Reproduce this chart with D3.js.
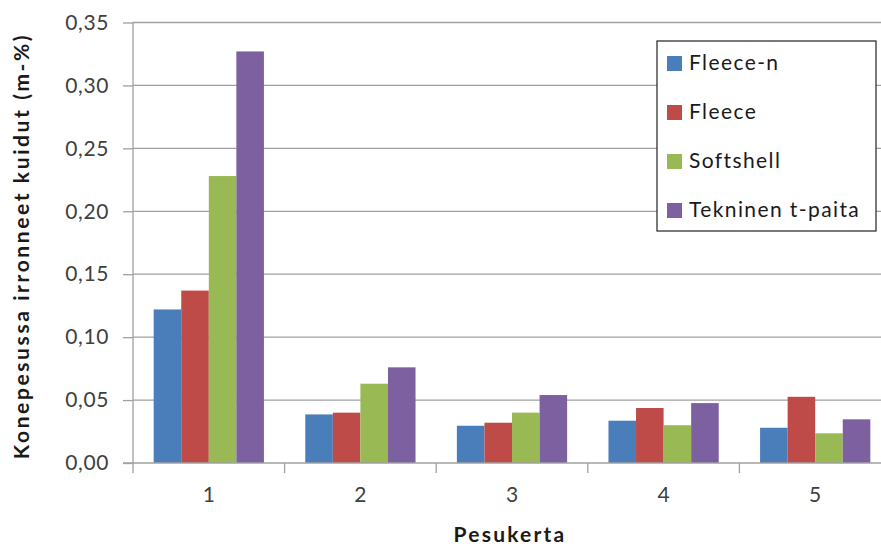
<!DOCTYPE html>
<html><head><meta charset="utf-8">
<script src="https://cdn.jsdelivr.net/npm/d3@7"></script>
<style>body{margin:0;background:#fff;} svg{display:block;}</style>
</head><body>
<svg id="chart" width="881" height="546"></svg>
<script>
const categories = ["1","2","3","4","5"];
const seriesNames = ["Fleece-n","Fleece","Softshell","Tekninen t-paita"];
const fleeceN   = [0.122, 0.0386, 0.0296, 0.0336, 0.028];
const fleece    = [0.137, 0.040, 0.032, 0.0437, 0.0526];
const softshell = [0.228, 0.063, 0.040, 0.030, 0.0236];
const tekninen  = [0.327, 0.076, 0.054, 0.0476, 0.0347];
const yTicks = [0,0.05,0.10,0.15,0.20,0.25,0.30,0.35];
const colors = ["#4a7ebb","#be4b48","#98b954","#7d60a0"];
const seriesValues = [fleeceN, fleece, softshell, tekninen];

(function(){
const font = "Lato, 'Open Sans', sans-serif";
const svg = d3.select("#chart");
const pLeft = 133, pRight = 891, pTop = 22.5, pBottom = 463;

const x = d3.scaleBand().domain(categories).range([pLeft, pRight]).paddingInner(0).paddingOuter(0);
const groupPad = 0.75 * (x.bandwidth() / (4 + 1.5));
const xs = d3.scaleBand().domain(seriesNames).range([groupPad, x.bandwidth() - groupPad]).padding(0);
const y = d3.scaleLinear().domain([0, 0.35]).range([pBottom, pTop]);

// gridlines
svg.append("g").selectAll("line").data(yTicks.slice(1)).join("line")
  .attr("x1", pLeft).attr("x2", pRight)
  .attr("y1", d => y(d)).attr("y2", d => y(d))
  .attr("stroke", "#a0a0a0").attr("stroke-width", 1.3);

// bars
const data = [];
categories.forEach((c, i) => seriesNames.forEach((s, j) => data.push({c, s, v: seriesValues[j][i], color: colors[j]})));
svg.append("g").selectAll("rect").data(data).join("rect")
  .attr("x", d => x(d.c) + xs(d.s))
  .attr("width", xs.bandwidth())
  .attr("y", d => y(d.v))
  .attr("height", d => y(0) - y(d.v))
  .attr("fill", d => d.color);

// y axis
const yAxis = d3.axisLeft(y).tickValues(yTicks).tickSize(10).tickPadding(14)
  .tickFormat(d => d3.format(".2f")(d).replace(".", ","));
const gy = svg.append("g").attr("transform", `translate(${pLeft},0)`).call(yAxis);
gy.select(".domain").attr("stroke", "#a0a0a0").attr("stroke-width", 1.3).attr("d", `M0,${pTop}V${pBottom}`);
gy.selectAll(".tick line").attr("stroke", "#a0a0a0").attr("stroke-width", 1.3);
gy.selectAll(".tick text").attr("font-family", font).attr("font-size", 21)
  .attr("letter-spacing", 0.6).attr("fill", "#404040");

// x axis
const xAxis = d3.axisBottom(x).tickSize(0).tickPadding(24);
const gx = svg.append("g").attr("transform", `translate(0,${pBottom})`).call(xAxis);
gx.select(".domain").attr("stroke", "#a0a0a0").attr("stroke-width", 1.3).attr("d", `M${pLeft - 10},0H${pRight}`);
gx.selectAll(".tick text").attr("font-family", font).attr("font-size", 21).attr("fill", "#404040");
svg.append("g").selectAll("line").data(categories).join("line")
  .attr("x1", d => x(d)).attr("x2", d => x(d))
  .attr("y1", pBottom).attr("y2", pBottom + 10)
  .attr("stroke", "#a0a0a0").attr("stroke-width", 1.3);

// axis titles
svg.append("text").attr("x", 510).attr("y", 542).attr("text-anchor", "middle")
  .attr("font-family", font).attr("font-weight", "bold").attr("font-size", 21)
  .attr("letter-spacing", 2.2).attr("fill", "#1a1a1a")
  .text("Pesukerta");
svg.append("text").attr("transform", "translate(29,246) rotate(-90)").attr("text-anchor", "middle")
  .attr("font-family", font).attr("font-weight", "bold").attr("font-size", 21)
  .attr("letter-spacing", 2.6).attr("fill", "#1a1a1a")
  .text("Konepesussa irronneet kuidut (m-%)");

// legend
const lg = svg.append("g");
lg.append("rect").attr("x", 657).attr("y", 41).attr("width", 219).attr("height", 190)
  .attr("fill", "#fff").attr("stroke", "#222").attr("stroke-width", 1.2);
const rows = lg.selectAll("g.row").data(seriesNames).join("g")
  .attr("transform", (d, i) => `translate(667,${63 + i * 49})`);
rows.append("rect").attr("x", 0).attr("y", -7).attr("width", 15).attr("height", 15)
  .attr("fill", (d, i) => colors[i]);
rows.append("text").attr("x", 22).attr("y", 0).attr("dy", "0.35em")
  .attr("font-family", font).attr("font-size", 21).attr("letter-spacing", 1.4)
  .attr("fill", "#1a1a1a").text(d => d);
})();
</script>
</body></html>
